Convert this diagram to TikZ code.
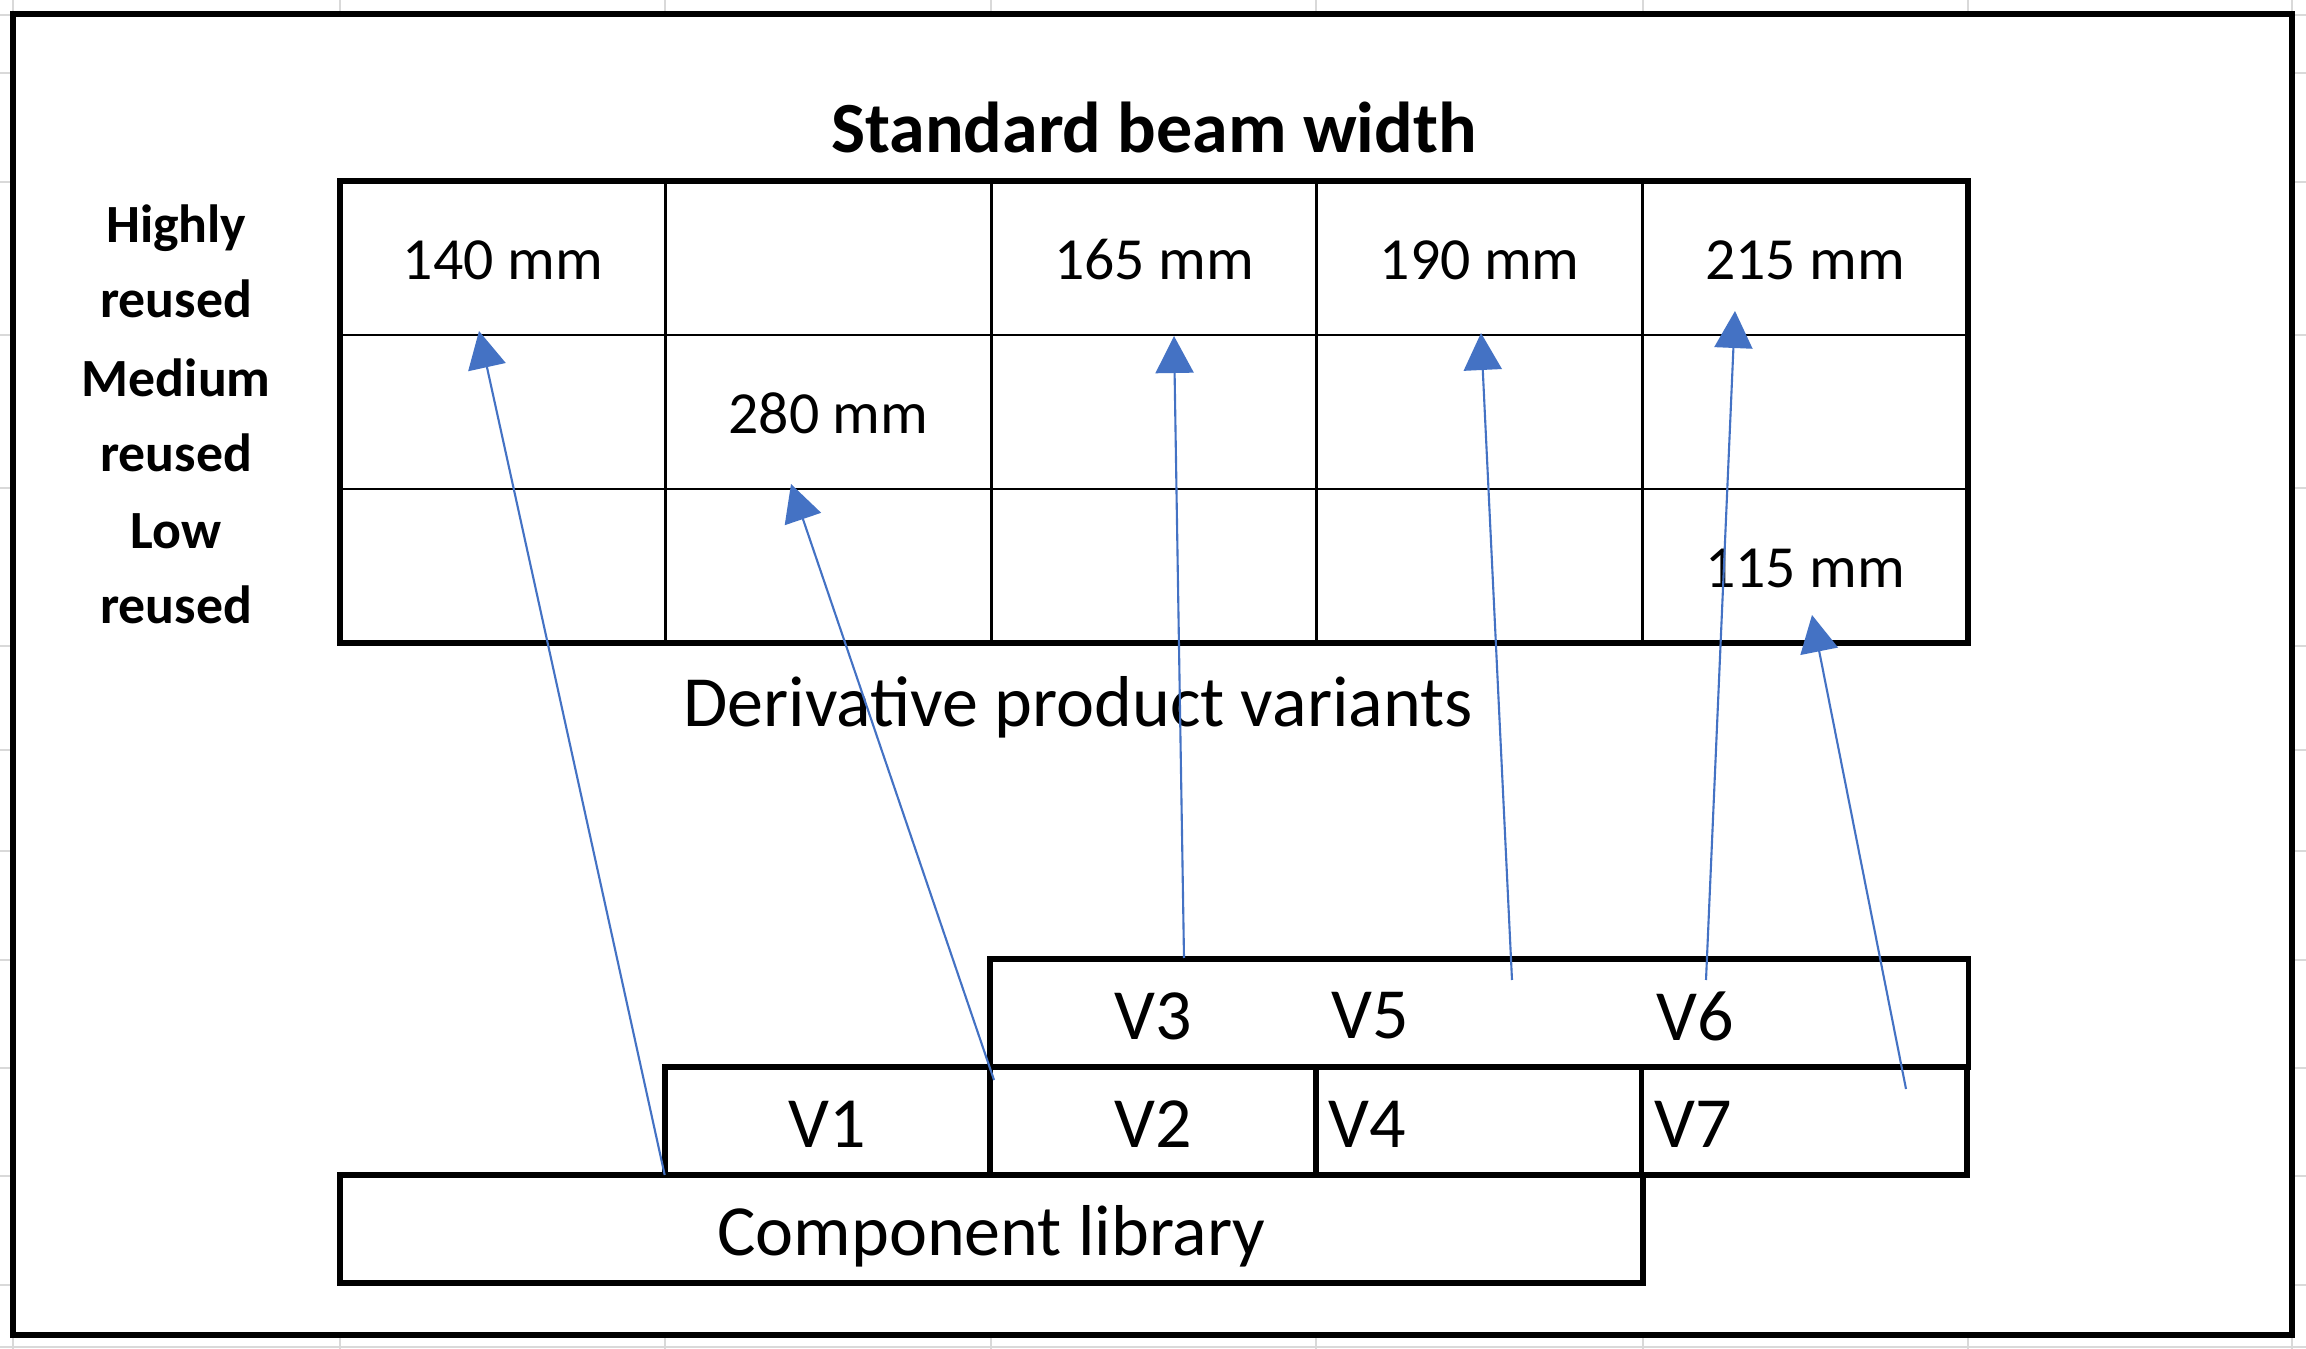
\documentclass[tikz,border=0pt]{standalone}
\usepackage{fontspec}
\setmainfont{Carlito}
\usetikzlibrary{positioning, calc, arrows.meta}

\definecolor{linkblue}{HTML}{4472C4}
\definecolor{gridgray}{HTML}{D9D9D9}

\tikzset{
    cell/.style={draw, line width=0.75pt, outer sep=0pt, inner sep=0pt,
        minimum width=3.256cm, minimum height=1.54cm, text height=12.5pt, text depth=0pt,
        font=\fontsize{17}{20}\selectfont},
    rowlabel/.style={inner sep=0pt, text width=2.2cm, align=center,
        font=\bfseries\fontsize{15.3}{21.3}\selectfont},
    vbox/.style={draw, line width=1.6pt, outer sep=0pt, inner sep=0pt,
        minimum height=1.08cm, text height=17pt, text depth=2pt,
        font=\fontsize{20.5}{24}\selectfont},
    vleft/.style={vbox, text width=3.0cm, inner xsep=0.128cm, align=left},
    vlabel/.style={inner sep=0pt, font=\fontsize{20.5}{24}\selectfont},
    link/.style={linkblue, line width=0.6pt, -{Triangle[length=3.7mm, width=3.8mm]}}
}

\begin{document}
\begin{tikzpicture}
    \useasboundingbox (0, 0) rectangle (23.06, -13.49);
    \foreach \gx in {0.13, 3.40, 6.65, 9.91, 13.16, 16.43, 19.68, 22.92}
        \draw[gridgray, line width=0.6pt] (\gx, 0) -- (\gx, -13.49);
    \foreach \gy in {0.15, 0.73, 1.82, 3.35, 4.88, 6.46, 7.50, 8.51, 9.60, 10.68, 11.76, 12.85, 13.47}
        \draw[gridgray, line width=0.6pt] (0, -\gy) -- (23.06, -\gy);
    \draw[line width=1.7pt, fill=white] (0.13, -0.14) rectangle (22.92, -13.35);

    \node[cell] (c11) at (5.028, -2.58) {140 mm};
    \node[cell, right=0 of c11] (c12) {};
    \node[cell, right=0 of c12] (c13) {165 mm};
    \node[cell, right=0 of c13] (c14) {190 mm};
    \node[cell, right=0 of c14] (c15) {215 mm};
    \node[cell, below=0 of c11] (c21) {};
    \node[cell, right=0 of c21] (c22) {280 mm};
    \node[cell, right=0 of c22] (c23) {};
    \node[cell, right=0 of c23] (c24) {};
    \node[cell, right=0 of c24] (c25) {};
    \node[cell, below=0 of c21] (c31) {};
    \node[cell, right=0 of c31] (c32) {};
    \node[cell, right=0 of c32] (c33) {};
    \node[cell, right=0 of c33] (c34) {};
    \node[cell, right=0 of c34] (c35) {115 mm};
    \draw[line width=1.7pt] (c11.north west) rectangle (c35.south east);

    \node[rowlabel, left=0.53 of c11, yshift=-0.03cm] (high) {Highly\\reused};
    \node[rowlabel, left=0.53 of c21, yshift=-0.03cm] (medium) {Medium\\reused};
    \node[rowlabel, left=0.53 of c31, yshift=-0.03cm] (low) {Low\\reused};
    \node[inner sep=0pt, font=\bfseries\fontsize{20.5}{24}\selectfont, above=0.27 of c13] (title) {Standard beam width};
    \node[vlabel] (deriv) at (10.78, -7.07) {Derivative product variants};

    \node[vbox, minimum width=3.256cm] (v1) at (8.275, -11.21) {V1};
    \node[vbox, minimum width=3.256cm, right=0 of v1] (v2) {V2};
    \node[vleft, right=0 of v2] (v4) {V4};
    \node[vleft, right=0 of v4] (v7) {V7};
    \node[vbox, minimum width=9.78cm, anchor=south west] (top) at (v2.north west) {};
    \node[vbox, minimum width=13.03cm, anchor=north west] (lib) at (c31.south west |- v1.south) {Component library};
    \node[vlabel] (lv3) at ($(v2 |- top)+(0, -0.03)$) {V3};
    \node[vlabel, anchor=west] (lv5) at ($(v4.west |- top)+(0.15, -0.03)$) {V5};
    \node[vlabel, anchor=west] (lv6) at ($(v7.west |- top)+(0.14, -0.03)$) {V6};

    \coordinate (t1) at (4.79, -3.31);
    \coordinate (s2) at (9.94, -10.80);
    \coordinate (t2) at (7.91, -4.84);
    \coordinate (s3) at (11.84, -9.58);
    \coordinate (t3) at (11.74, -3.36);
    \coordinate (s4) at (15.12, -9.80);
    \coordinate (t4) at (14.81, -3.33);
    \coordinate (s5) at (17.06, -9.80);
    \coordinate (t5) at (17.35, -3.11);
    \coordinate (s6) at (19.06, -10.89);
    \coordinate (t6) at (18.12, -6.15);
    \draw[link] (v1.south west) -- (t1);
    \draw[link] (s2) -- (t2);
    \draw[link] (s3) -- (t3);
    \draw[link] (s4) -- (t4);
    \draw[link] (s5) -- (t5);
    \draw[link] (s6) -- (t6);
\end{tikzpicture}
\end{document}
